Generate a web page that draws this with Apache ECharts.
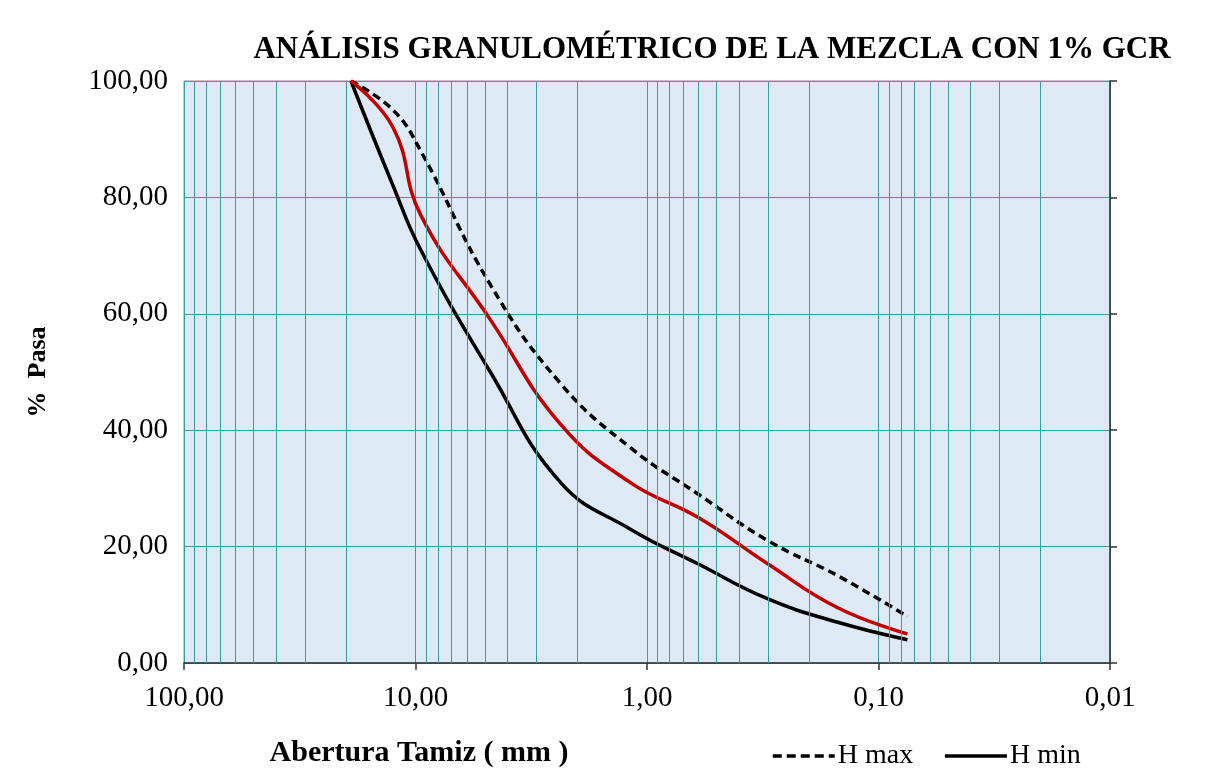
<!DOCTYPE html>
<html>
<head>
<meta charset="UTF-8">
<script src="https://cdn.jsdelivr.net/npm/echarts@6/dist/echarts.min.js"></script>
<style>
    html, body { margin: 0; padding: 0; background: #ffffff; }
    #granulometria { width: 1224px; height: 768px; }
</style>
</head>
<body>
<div id="granulometria"></div>
<script>
    /*datos del ensayo*/
    var tamices = [19.0, 12.5, 9.5, 4.75, 2.36, 1.18, 0.6, 0.3, 0.15, 0.075];
    var hMax = [100, 95, 88, 65, 48, 37, 29, 21, 15, 8];
    var hMin = [100, 82, 71, 50, 31, 23, 17, 11, 7, 4];
    var mezcla = [100, 92, 77, 59, 41, 31, 25, 17, 9.5, 5];

    /*lineas secundarias de la escala logaritmica*/
    var lineasMenores = [90, 80, 70, 60, 50, 40, 30, 20,
        9, 8, 7, 6, 5, 4, 3, 2,
        0.9, 0.8, 0.7, 0.6, 0.5, 0.4, 0.3, 0.2,
        0.09, 0.08, 0.07, 0.06, 0.05, 0.04, 0.03, 0.02];

    var fuente = "'Liberation Serif', 'DejaVu Serif', serif";
    var verde = '#3a9e9c';

    function pares(valores) {
        return tamices.map(function (t, i) {
            return [t, valores[i]];
        });
    }

    function coma(v) {
        return Number(v).toFixed(2).replace('.', ',');
    }

    var chart = echarts.init(document.getElementById('granulometria'));
    var option = {
        backgroundColor: '#ffffff',
        animation: false,
        textStyle: { fontFamily: fuente, color: '#000' },
        title: {
            text: 'ANÁLISIS GRANULOMÉTRICO DE LA MEZCLA CON 1% GCR',
            left: 707,
            textAlign: 'center',
            top: 29,
            textStyle: { fontFamily: fuente, fontSize: 31, fontWeight: 'bold', color: '#000' }
        },
        legend: {
            data: [{
                name: 'H max',
                itemStyle: { opacity: 0 },
                lineStyle: { color: '#000', width: 3.5, type: [9, 5] }
            }, {
                name: 'H min',
                itemStyle: { opacity: 0 },
                lineStyle: { color: '#000', width: 3.5 }
            }],
            left: 766,
            top: 737,
            itemWidth: 62,
            itemHeight: 14,
            itemGap: 30,
            textStyle: { fontFamily: fuente, fontSize: 28, color: '#000', padding: [0, 0, 0, -2] }
        },
        grid: {
            left: 184,
            right: 114,
            top: 81,
            bottom: 105,
            outerBoundsMode: 'none',
            show: true,
            backgroundColor: '#dde9f5',
            borderColor: '#8f8f8f',
            borderWidth: 1
        },
        xAxis: {
            type: 'log',
            logBase: 10,
            min: 0.01,
            max: 100,
            inverse: true,
            name: 'Abertura Tamiz ( mm )',
            nameLocation: 'middle',
            nameGap: 75,
            nameTextStyle: { fontFamily: fuente, fontSize: 30, fontWeight: 'bold', color: '#000', padding: [0, 0, 0, -456] },
            axisLine: { lineStyle: { color: '#333', width: 1.5 } },
            axisTick: { length: 7, lineStyle: { color: '#333', width: 1.5 } },
            axisLabel: { fontFamily: fuente, fontSize: 29, color: '#000', margin: 21, formatter: coma },
            splitLine: { show: true, lineStyle: { color: verde, width: 1 } }
        },
        yAxis: [{
            type: 'value',
            min: 0,
            max: 100,
            interval: 20,
            position: 'left',
            name: '%  Pasa',
            nameLocation: 'middle',
            nameGap: 133,
            nameRotate: 90,
            nameTextStyle: { fontFamily: fuente, fontSize: 26, fontWeight: 'bold', color: '#000' },
            axisLine: { show: false },
            axisTick: { show: false },
            axisLabel: { fontFamily: fuente, fontSize: 29, color: '#000', margin: 16, formatter: coma },
            splitLine: { show: true, lineStyle: { color: verde, width: 1 } }
        }, {
            type: 'value',
            min: 0,
            max: 100,
            interval: 20,
            position: 'right',
            axisLine: { show: true, lineStyle: { color: '#333', width: 1.5 } },
            axisTick: { show: true, length: 7, lineStyle: { color: '#333', width: 1.5 } },
            axisLabel: { show: false },
            splitLine: { show: false }
        }],
        series: [{
            name: 'rejilla',
            type: 'line',
            data: [],
            z: 1,
            silent: true,
            markLine: {
                silent: true,
                symbol: ['none', 'none'],
                label: { show: false },
                lineStyle: { color: verde, width: 1, type: 'solid' },
                data: lineasMenores.map(function (v) { return { xAxis: v }; })
            }
        }, {
            name: 'H max',
            type: 'line',
            data: pares(hMax),
            smooth: 0.45,
            symbol: 'none',
            z: 3,
            lineStyle: { color: '#000', width: 3.5, type: [8, 5] },
            itemStyle: { color: '#000' }
        }, {
            name: 'H min',
            type: 'line',
            data: pares(hMin),
            smooth: 0.45,
            symbol: 'none',
            z: 3,
            lineStyle: { color: '#000', width: 3.5 },
            itemStyle: { color: '#000' }
        }, {
            name: 'Mezcla 1% GCR',
            type: 'line',
            data: pares(mezcla),
            smooth: 0.45,
            symbol: 'none',
            z: 4,
            lineStyle: { color: '#c00000', width: 3.5 },
            itemStyle: { color: '#c00000' }
        }]
    };
    chart.setOption(option);

    window.addEventListener("resize", function () {
        chart.resize();
    });
</script>
</body>
</html>
